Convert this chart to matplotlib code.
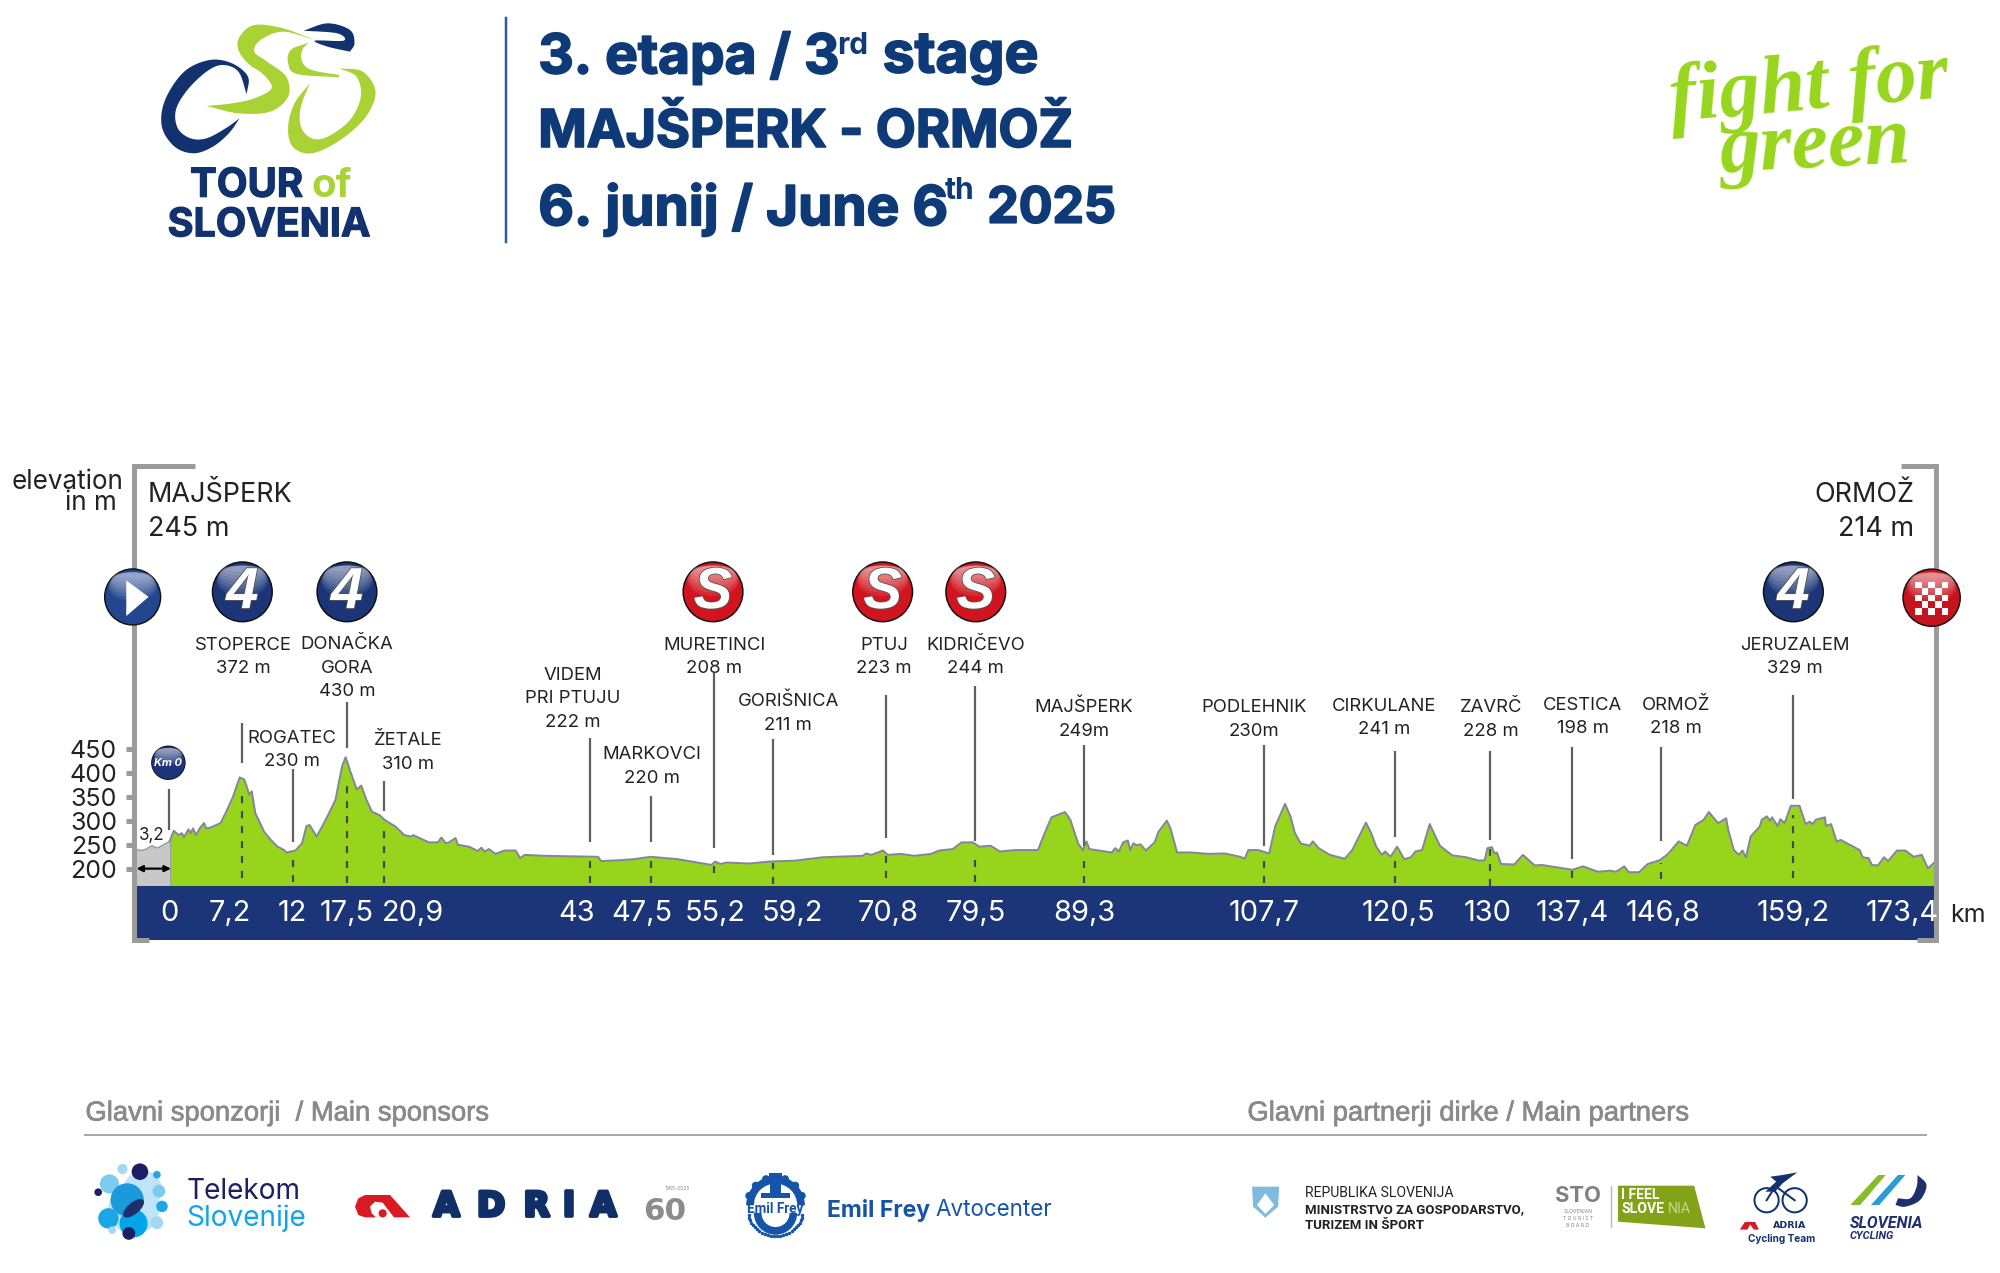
#!/usr/bin/env python3
"""Stage profile poster: 3rd stage of the Tour of Slovenia 2025."""

import matplotlib

matplotlib.use("Agg")
import matplotlib.patheffects as pe  # noqa: E402
import matplotlib.pyplot as plt  # noqa: E402
import numpy as np  # noqa: E402
from matplotlib.patches import Circle, Ellipse, Polygon, Rectangle, Wedge  # noqa: E402

# profile, km from the official start / metres
neutral_km = [-3.5, -2.73, -2.3, -1.73, -1.2, -0.77, 0.0]
neutral_elev = [242, 239, 242, 249, 244, 249, 258]

profile_km = [
    0.0, 0.41, 0.63, 0.89, 1.2, 1.42, 1.85, 2.07, 2.29, 2.6, 2.95, 3.38, 3.6, 4.04, 5.0, 5.57,
    6.23, 6.88, 7.32, 7.62, 7.8, 8.06, 8.41, 9.28, 9.94, 10.6, 11.25, 11.47, 12.34, 13.0, 13.44,
    13.74, 14.44, 15.4, 16.28, 16.93, 17.28, 17.8, 18.37, 18.81, 19.33, 19.86, 20.65, 21.08,
    22.17, 23.05, 23.7, 23.92, 25.45, 26.33, 26.68, 27.11, 27.42, 28.07, 28.29, 29.39, 30.26,
    30.61, 30.92, 31.35, 32.0, 32.88, 33.97, 34.41, 34.85, 36.8, 42.06, 42.36, 44.24, 45.55,
    47.2, 49.9, 53.2, 53.55, 54.08, 54.7, 56.9, 58.84, 61.44, 64.1, 68.05, 68.36, 68.9, 70.04,
    70.48, 71.8, 73.1, 74.75, 75.55, 76.87, 77.75, 78.86, 79.5, 80.6, 81.5, 83.0, 85.25, 85.9,
    86.57, 87.9, 88.42, 89.2, 89.66, 90.0, 90.3, 92.5, 92.83, 93.2, 93.6, 94.07, 94.3, 94.6,
    94.95, 95.3, 95.83, 96.7, 97.07, 97.9, 98.25, 98.9, 100.24, 102.0, 103.55, 105.1, 105.53,
    105.9, 106.85, 107.95, 108.53, 109.5, 110.03, 110.47, 111.04, 111.9, 112.23, 112.8, 113.9,
    115.36, 116.1, 117.44, 117.96, 118.45, 119.0, 119.33, 119.86, 120.5, 121.2, 121.85, 122.3,
    122.95, 123.7, 124.27, 124.7, 125.9, 127.3, 128.55, 129.1, 129.37, 129.8, 130.06, 130.3,
    130.7, 132.0, 132.85, 134.0, 134.7, 137.7, 138.75, 140.2, 141.4, 142.0, 142.8, 143.24,
    144.26, 145.1, 146.3, 147.1, 148.14, 148.95, 149.77, 150.6, 151.1, 152.0, 152.8, 153.0,
    153.56, 154.05, 154.4, 154.75, 155.2, 156.1, 156.3, 156.8, 157.1, 157.3, 157.85, 158.13,
    158.54, 159.15, 160.0, 160.6, 161.0, 161.3, 161.6, 162.5, 162.6, 163.1, 163.64, 164.05,
    165.9, 166.2, 166.8, 167.1, 167.7, 168.3, 168.7, 169.56, 170.4, 171.2, 172.0, 172.6, 173.4,
]
profile_elev = [
    258, 280, 276, 271, 275, 267, 283, 275, 285, 271, 285, 296, 285, 287, 296, 320,
    351, 391, 387, 369, 355, 362, 317, 278, 261, 247, 240, 235, 239, 254, 290,
    292, 268, 306, 344, 414, 433, 400, 366, 374, 344, 320, 312, 303,
    289, 271, 268, 271, 256, 256, 266, 254, 256, 265, 251, 247, 238,
    245, 237, 242, 232, 239, 239, 223, 230, 228, 226, 217, 219, 221,
    226, 221, 209, 216, 211, 214, 212, 216, 218, 225, 228, 233, 230, 239,
    230, 232, 228, 232, 239, 242, 256, 256, 247, 249, 237, 240, 240, 275,
    308, 319, 303, 253, 240, 258, 242, 235, 244, 237, 256, 260, 240, 254,
    250, 252, 239, 256, 278, 301, 285, 235, 235, 232, 233, 226, 222,
    240, 240, 233, 289, 336, 310, 275, 254, 249, 258, 244, 230,
    222, 240, 297, 275, 247, 230, 237, 226, 247, 221, 225, 237,
    240, 294, 268, 249, 229, 225, 218, 219, 244, 246, 233, 235,
    211, 210, 230, 208, 209, 199, 206, 195, 197, 195, 206, 194,
    194, 211, 219, 232, 258, 249, 292, 303, 319, 296, 306, 282,
    240, 230, 239, 225, 268, 289, 303, 310, 301, 308, 290, 304,
    296, 332, 332, 294, 299, 294, 303, 308, 290, 294, 258, 261,
    240, 225, 223, 209, 208, 225, 217, 239, 239, 226, 230, 202, 217,
]

elev_ticks = [200, 250, 300, 350, 400, 450]

# km of the vertical leaders, as they stand in the drawing
marker_km = [7.14, 12.15, 17.4, 21.0, 41.3, 47.3, 53.4, 59.2, 70.3, 79.1, 89.8, 107.4,
             120.3, 129.6, 137.7, 146.4, 159.4]
km_labels = ["0", "7,2", "12", "17,5", "20,9", "43", "47,5", "55,2", "59,2", "70,8", "79,5",
             "89,3", "107,7", "120,5", "130", "137,4", "146,8", "159,2", "173,4"]
place_labels = [
    "STOPERCE\n372 m", "ROGATEC\n230 m", "DONAČKA\nGORA\n430 m", "ŽETALE\n310 m",
    "VIDEM\nPRI PTUJU\n222 m", "MARKOVCI\n220 m", "MURETINCI\n208 m", "GORIŠNICA\n211 m",
    "PTUJ\n223 m", "KIDRIČEVO\n244 m", "MAJŠPERK\n249m", "PODLEHNIK\n230m", "CIRKULANE\n241 m",
    "ZAVRČ\n228 m", "CESTICA\n198 m", "ORMOŽ\n218 m", "JERUZALEM\n329 m",
]

# layout: leader ends in image pixels, labels in units of the 1568 wide page
LEADER_TOP = [723, 769, 702, 781, 738, 796, 673, 739, 695, 686, 745, 745, 751, 751, 747, 747, 695]
LEADER_BOT = [763, 842, 748, 811, 842, 842, 848, 855, 838, 841, 846, 846, 837, 840, 859, 841, 799]
DASH_TOP = [795, 857, 780, 823, 857, 857, 865, 863, 851, 855, 859, 859, 855, 848, 869, 863, 815]
DASH_BOT = [878, 882, 883, 883, 883, 883, 873, 884, 878, 882, 883, 883, 883, 886, 878, 879, 878]
LABEL_POS = [(191, 515), (229, 588), (272, 524), (320, 590), (449, 548), (511, 601), (560, 515),
             (618, 559), (693, 515), (765, 515), (850, 564), (983, 564), (1085, 563), (1169, 564),
             (1241, 562), (1314, 562), (1407, 515)]
KM_LABEL_X = [133, 180, 229, 272, 324, 452, 503, 561, 621, 696, 765, 850, 991, 1096, 1166, 1233,
              1304, 1406, 1491]

W, H = 2000, 1273
PAGE_W, PAGE_H = 1568, 1273 * 0.784
LEFT_PX, RIGHT_PX = 134, 1936
PX_PER_KM = (1936 - 169.6) / 173.4
PX_PER_M = 0.481
BASE_PY = 886
BASE_M = 200 - (BASE_PY - 869.3) / PX_PER_M

NAVY = "#1B3578"
TITLE = "#0F3A78"
LIME = "#97D51D"
LOGO_LIME = "#A9D234"
LOGO_NAVY = "#12326F"
RED = "#D2141E"
GREY = "#9B9B9B"
INK = "#222222"
EMIL = "#1554A8"
FONT = ["Inter", "DejaVu Sans"]

plt.rcParams["font.family"] = FONT


def pt(px):
    return px * 0.72


def py2m(py):
    return BASE_M + (BASE_PY - np.asarray(py, float)) / PX_PER_M


def spline(points, n=10):
    p = np.asarray(points, float)
    p = np.vstack([2 * p[0] - p[1], p, 2 * p[-1] - p[-2]])
    out = []
    for i in range(1, len(p) - 2):
        t = np.linspace(0, 1, n, endpoint=False)[:, None]
        out.append(0.5 * (2 * p[i] + (p[i + 1] - p[i - 1]) * t
                          + (2 * p[i - 1] - 5 * p[i] + 4 * p[i + 1] - p[i + 2]) * t ** 2
                          + (3 * p[i] - p[i - 1] - 3 * p[i + 1] + p[i + 2]) * t ** 3))
    out.append(p[-2:-1])
    return np.vstack(out)


def crescent(ax, outer, inner, color, conv):
    pts = np.vstack([spline([conv(*q) for q in outer]), spline([conv(*q) for q in inner])])
    ax.add_patch(Polygon(pts, closed=True, fc=color, ec="none"))


def z7(x, y):
    return 101.9 + x * 0.5, y * 0.2613


def z6(x, y):
    return (1230 + x / 2.036) * 0.784, (1090 + y / 3) * 0.784


def zc(x, y):
    return (340 + x / 3) * 0.784, (1160 + y / 3) * 0.784


def ball(ax, cx, cy, r, base, light):
    ax.add_patch(Circle((cx, cy), r, fc="#111111", ec="none", zorder=5))
    ax.add_patch(Circle((cx, cy), r * 0.95, fc=base, ec="none", zorder=5))
    # soft glass highlight, strongest along the top edge
    top = cy - r * 0.86
    for h in np.linspace(1.0, 0.2, 8):
        ax.add_patch(Ellipse((cx, top + r * h / 2), 2 * r * (0.62 + 0.22 * h), r * h, fc=light,
                             ec="none", alpha=0.09, zorder=6))


def badge(ax, cx, cy, r, label, base, light):
    ball(ax, cx, cy, r, base, light)
    ax.text(cx, cy + 1, label, color="white", ha="center", va="center", style="italic",
            weight="bold", fontsize=pt(58), family=["Liberation Sans"], zorder=7,
            path_effects=[pe.withStroke(linewidth=1.2, foreground="#555555")])


def draw_header(ax):
    crescent(ax, [(183, 283), (185, 230), (160, 190), (125, 180), (85, 215), (55, 300), (50, 380),
                  (70, 440), (100, 460), (130, 440), (155, 400), (172, 355)],
             [(172, 355), (150, 385), (120, 415), (95, 415), (75, 385), (72, 330), (90, 270),
              (120, 215), (145, 195), (170, 215), (183, 283)], LOGO_NAVY, z7)
    crescent(ax, [(120, 318), (170, 340), (220, 335), (248, 290), (245, 230), (215, 185), (195, 155),
                  (205, 120), (240, 95), (290, 120)],
             [(290, 120), (240, 85), (195, 75), (172, 110), (170, 150), (185, 190), (210, 225),
              (222, 265), (195, 295), (160, 310), (120, 318)], LOGO_LIME, z7)
    crescent(ax, [(280, 128), (252, 150), (248, 190), (262, 222), (328, 232)],
             [(328, 225), (285, 210), (270, 185), (270, 150), (280, 128)], LOGO_LIME, z7)
    crescent(ax, [(328, 205), (365, 215), (385, 275), (370, 350), (330, 420), (285, 460), (255, 440),
                  (248, 380), (258, 310), (282, 250)],
             [(282, 250), (268, 320), (268, 380), (285, 415), (310, 410), (345, 360), (362, 290),
              (355, 230), (328, 205)], LOGO_LIME, z7)
    crescent(ax, [(272, 92), (310, 70), (345, 90), (352, 130), (345, 155)],
             [(345, 155), (310, 140), (290, 122), (335, 122), (325, 100), (272, 92)], LOGO_NAVY, z7)

    logo = [pe.withStroke(linewidth=0.9, foreground=LOGO_NAVY)]
    ax.text(149, 146, "TOUR", color=LOGO_NAVY, weight="bold", ha="left", va="center",
            fontsize=pt(40), path_effects=logo)
    ax.text(244, 146, "of", color=LOGO_LIME, weight="bold", ha="left", va="center", fontsize=pt(40))
    ax.text(211, 177, "SLOVENIA", color=LOGO_NAVY, weight="bold", ha="center", va="center",
            fontsize=pt(39.5), path_effects=logo)

    ax.plot([397, 397], [14, 190], color="#2C5CA6", lw=pt(2.5))
    heavy = [pe.withStroke(linewidth=1.3, foreground=TITLE)]
    big = dict(color=TITLE, weight="bold", va="center", ha="left", path_effects=heavy)
    small = dict(color=TITLE, weight="bold", va="center", ha="left", fontsize=pt(30))
    ax.text(422, 45, "3. etapa / 3", fontsize=pt(55), **big)
    ax.text(656, 36, "rd", **small)
    ax.text(692, 45, "stage", fontsize=pt(57), **big)
    ax.text(422, 104, "MAJŠPERK - ORMOŽ", fontsize=pt(52), **big)
    ax.text(422, 164, "6. junij / June 6", fontsize=pt(55), **big)
    ax.text(741, 150, "th", **small)
    ax.text(774, 164, "2025", fontsize=pt(50), **big)

    script = dict(color=LIME, weight="bold", style="italic", ha="center", va="center",
                  family=["Liberation Serif"])
    ax.text(1418, 70, "fight for", fontsize=pt(82), rotation=5, **script)
    ax.text(1423, 116, "green", fontsize=pt(82), rotation=3, **script)


def draw_frame(ax):
    line = dict(color=GREY, lw=pt(5), solid_capstyle="butt", solid_joinstyle="miter", zorder=4)
    ax.plot([153, 105, 105, 117], [365.5, 365.5, 737, 737], **line)
    ax.plot([1490, 1518, 1518, 1503], [365.5, 365.5, 737, 737], **line)
    ax.add_patch(Rectangle((105, 695), 1413, 42, fc=NAVY, ec="none", zorder=3))

    # the second line ends a little short of the first, hence the no-break space
    ax.text(97, 386, "elevation\nin m\u00a0", color=INK, ha="right", va="center", multialignment="right",
            fontsize=pt(26), linespacing=0.72)
    ax.text(116, 388, "MAJŠPERK", color=INK, ha="left", va="center", fontsize=pt(27))
    ax.text(116, 415, "245 m", color=INK, ha="left", va="center", fontsize=pt(27))
    ax.text(1501, 388, "ORMOŽ", color=INK, ha="right", va="center", fontsize=pt(27))
    ax.text(1501, 415, "214 m", color=INK, ha="right", va="center", fontsize=pt(27))

    for x, lab in zip(KM_LABEL_X, km_labels):
        ax.text(x, 716.5, lab, color="white", ha="center", va="center", fontsize=pt(29), zorder=5)
    ax.text(1543, 718, "km", color=INK, ha="center", va="center", fontsize=pt(25))

    ax.text(119, 655, "3,2", color=INK, ha="center", va="center", fontsize=pt(17))
    ax.annotate("", xy=(107, 681), xytext=(134, 681),
                arrowprops=dict(arrowstyle="<|-|>", color="black", lw=1.6, mutation_scale=9,
                                shrinkA=0, shrinkB=0))

    for (x, y), lab in zip(LABEL_POS, place_labels):
        ax.text(x, y, lab, color=INK, ha="center", va="center", fontsize=pt(18.5), linespacing=1.5)


def draw_icons(ax):
    ball(ax, 104, 468, 22.5, "#23468F", "#FFFFFF")
    ax.add_patch(Polygon([(99, 455), (99, 483), (116.5, 468)], fc="white", ec="none", zorder=7))
    for x in (190, 272, 1406):
        badge(ax, x, 464, 24, "4", NAVY, "#FFFFFF")
    for x in (559, 692, 765):
        badge(ax, x, 464, 24, "S", RED, "#FFFFFF")
    ball(ax, 1514.4, 468.6, 23, "#C5141E", "#FFFFFF")
    for i in range(5):
        for j in range(5):
            if (i + j) % 2 == 0:
                ax.add_patch(Rectangle((1501.6 + i * 5.17, 456 + j * 5.17), 5.17, 5.17, fc="white",
                                       ec="none", zorder=7))
    ball(ax, 132, 598, 13.5, NAVY, "#FFFFFF")
    ax.text(132, 598, "Km 0", color="white", style="italic", weight="bold", ha="center",
            va="center", fontsize=pt(11), zorder=7)


def draw_sponsors(ax):
    head = dict(color="#8A8A8A", family=["Liberation Sans"], va="center", ha="left", fontsize=pt(27.4),
                path_effects=[pe.withStroke(linewidth=0.5, foreground="#8A8A8A")])
    ax.text(67, 873, "Glavni sponzorji  / Main sponsors", **head)
    ax.text(978, 873, "Glavni partnerji dirke / Main partners", **head)
    ax.plot([67, 1510], [890, 890], color="#A8A8A8", lw=pt(2))

    # Telekom
    for x, y, r, c in [(112, 932.8, 15, "#BFE3F7"), (105, 947.7, 20, "#BFE3F7"), (109.7, 918.6, 6.5, "#1E1E64"),
                       (96, 916.5, 4, "#A5D8F3"), (123, 921, 3, "#22A7E5"), (85.8, 928.2, 7.5, "#7CCBF1"),
                       (77, 934.7, 3, "#1E1E64"), (99.7, 940.7, 13, "#1B9ADB"), (124.6, 933.8, 5, "#7CCBF1"),
                       (127, 945.8, 4.5, "#1BA7E6"), (85, 955.2, 8, "#1BA7E6"), (104.7, 959.2, 11, "#00A6E8"),
                       (123, 958.6, 5, "#A5D8F3"), (88, 964.4, 3, "#A5D8F3"), (101, 967, 5, "#1E1E64")]:
        ax.add_patch(Circle((x, y), r, fc=c, ec="none"))
    ax.add_patch(Ellipse((104.7, 947.3), 20, 9, angle=-40, fc="#1E2F6E", ec="none"))
    ax.text(146, 934, "Telekom", color="#1E1E64", va="center", ha="left", fontsize=pt(28))
    ax.text(146, 955, "Slovenije", color="#12A5E6", va="center", ha="left", fontsize=pt(28))

    # Adria
    mark = [zc(*q) for q in [(45, 140), (55, 115), (75, 105), (150, 105), (210, 172), (162, 172), (128, 128),
                             (105, 125), (90, 140), (95, 160), (108, 172), (75, 172), (55, 165)]]
    ax.add_patch(Polygon(mark, fc="#DA1A22", ec="none"))
    ax.add_patch(Circle(zc(128, 160), 3.2, fc="#DA1A22", ec="none"))
    thick = [pe.withStroke(linewidth=2.6, foreground="#0F2F66")]
    for x, letter in zip((350, 385, 420.8, 446, 473), "ADRIA"):
        ax.text(x, 946, letter, color="#0F2F66", weight="bold", ha="center", va="center",
                fontsize=pt(34), family=["DejaVu Sans"], path_effects=thick)
    ax.text(521.4, 950, "60", color="#8C8C8C", weight="bold", ha="center", va="center",
            fontsize=pt(31), family=["DejaVu Sans"])
    ax.text(531, 932, "1965-2025", color="#8C8C8C", ha="center", va="center", fontsize=pt(5))

    # Emil Frey
    ax.add_patch(Wedge((608, 945), 23, 180, 360, width=6, fc=EMIL, ec="none"))
    for a in np.radians([200, 225, 250, 290, 315, 340]):
        ax.add_patch(Circle((608 + 22 * np.cos(a), 945 + 22 * np.sin(a)), 3, fc=EMIL, ec="none"))
    ax.add_patch(Rectangle((604, 921), 8, 18, fc=EMIL, ec="none"))
    ax.add_patch(Rectangle((597, 935), 22, 4, fc=EMIL, ec="none"))
    ax.add_patch(Rectangle((603, 920), 10, 3, fc=EMIL, ec="none"))
    ax.add_patch(Wedge((608, 951), 17, 0, 180, width=6, fc=EMIL, ec="none"))
    th = np.radians(np.linspace(5, 175, 26))
    ax.plot(608 + 21 * np.cos(th), 951 + 18 * np.sin(th), ls="none", marker="o", ms=1.5, color=EMIL)
    ax.text(608, 948, "Emil Frey", color=EMIL, weight="bold", ha="center", va="center", fontsize=pt(13.5),
            family=["Roboto"])
    ax.text(648, 949, "Emil Frey", color=EMIL, weight="bold", ha="left", va="center", fontsize=pt(23))
    ax.text(733, 949, "Avtocenter", color=EMIL, ha="left", va="center", fontsize=pt(22.4))

    # Republika Slovenija
    ax.add_patch(Polygon([z6(45, 290), z6(100, 290), z6(98, 350), z6(72, 383), z6(47, 350)],
                         fc="#7FBBDD", ec="none"))
    ax.add_patch(Polygon([z6(55, 345), z6(72, 310), z6(90, 345), z6(72, 372)], fc="white", ec="none"))
    ax.text(1023, 935, "REPUBLIKA SLOVENIJA", color=INK, ha="left", va="center",
            fontsize=pt(14), family=["Roboto"])
    ax.text(1023, 948, "MINISTRSTVO ZA GOSPODARSTVO,", color=INK, ha="left", va="center",
            weight="bold", fontsize=pt(13.3), family=["Roboto"])
    ax.text(1023, 961, "TURIZEM IN ŠPORT", color=INK, ha="left", va="center",
            weight="bold", fontsize=pt(13.3), family=["Roboto"])

    # STO
    ax.text(1219, 938, "STO", color="#808080", weight="bold", ha="left", va="center", fontsize=pt(22))
    for y, lab in zip((950, 955, 961), ("SLOVENIAN", "T O U R I S T", "B O A R D")):
        ax.text(1237, y, lab, color="#808080", ha="center", va="center", fontsize=pt(5))
    ax.plot([1263, 1263], [930, 962], color="#BBBBBB", lw=1)
    ax.add_patch(Polygon([z6(790, 287), z6(945, 287), z6(968, 415), z6(790, 395)], fc="#84A218",
                         ec="none"))
    ax.text(1271, 937, "I FEEL", color="white", weight="bold", ha="left", va="center",
            fontsize=pt(14), family=["Roboto"])
    ax.text(1271, 948, "SLOVE", color="white", weight="bold", ha="left", va="center",
            fontsize=pt(14), family=["Roboto"])
    ax.text(1308, 948, "NIA", color="#C9D98A", ha="left", va="center", fontsize=pt(14), family=["Roboto"])

    # Adria cycling team
    for x in (1385, 1407):
        ax.add_patch(Circle((x, 941), 9.5, fc="none", ec="#12326F", lw=pt(2)))
    ax.add_patch(Polygon([z6(1155, 247), z6(1125, 255), z6(1100, 260), z6(1112, 275), z6(1090, 305),
                          z6(1110, 305), z6(1125, 280)], fc="#12326F", ec="none"))
    ax.plot([1385, 1392, 1407], [941, 930, 941], color="#12326F", lw=pt(2))
    ax.add_patch(Polygon([(1364, 964), (1368, 958), (1376, 958), (1379, 964), (1375, 964), (1372, 960),
                          (1370, 964)], fc="#DA1A22", ec="none"))
    ax.text(1403, 961, "ADRIA", color="#12326F", weight="bold", ha="center", va="center",
            fontsize=pt(9.5), family=["DejaVu Sans"])
    ax.text(1397, 971, "Cycling Team", color="#12326F", weight="bold", ha="center", va="center",
            fontsize=pt(10))

    # Slovenia cycling
    ax.add_patch(Polygon([z6(1263, 345), z6(1320, 255), z6(1335, 255), z6(1283, 345)], fc="#86BC25",
                         ec="none"))
    ax.add_patch(Polygon([z6(1305, 345), z6(1360, 255), z6(1375, 255), z6(1322, 345)], fc="#2B9AD6",
                         ec="none"))
    arc = [z6(1400, 255), z6(1418, 285), z6(1405, 330), z6(1375, 350), z6(1355, 345)]
    inner = [z6(1360, 325), z6(1385, 325), z6(1398, 290), z6(1400, 255)]
    ax.add_patch(Polygon(np.vstack([spline(arc), spline(inner)]), fc="#1E2F6E", ec="none"))
    ax.text(1450, 959, "SLOVENIA", color="#1E2F6E", weight="bold", style="italic", ha="left",
            va="center", fontsize=pt(16), family=["Roboto"])
    ax.text(1450, 969, "CYCLING", color="#1E2F6E", weight="bold", style="italic", ha="left",
            va="center", fontsize=pt(11), family=["Roboto"])


def main():
    fig = plt.figure(figsize=(W / 100, H / 100), dpi=100, facecolor="white")

    # profile axes, placed so that 1 km and 1 m keep the scale of the drawing
    ax = fig.add_axes([LEFT_PX / W, 1 - BASE_PY / H, (RIGHT_PX - LEFT_PX) / W, (BASE_PY - 466) / H], zorder=1)
    ax.set_xlim(-(169.6 - LEFT_PX) / PX_PER_KM, 173.4)
    ax.set_ylim(BASE_M, py2m(466))
    ax.patch.set_visible(False)
    ax.spines[:].set_visible(False)
    ax.set_xticks([])
    ax.set_yticks(elev_ticks)
    ax.tick_params(axis="y", length=pt(8), width=pt(5), color=GREY, labelsize=pt(25), pad=pt(9),
                   labelcolor=INK)

    ax.fill_between(neutral_km, neutral_elev, BASE_M, color="#C8C8C8", lw=0)
    ax.plot(neutral_km, neutral_elev, color="#9A9AA5", lw=pt(1.5))
    ax.fill_between(profile_km, profile_elev, BASE_M, color=LIME, lw=0)
    ax.plot(profile_km, profile_elev, color="#85859A", lw=pt(2))
    ax.plot([0, 0], [BASE_M, neutral_elev[-1]], color="#9A9AA5", lw=pt(1))
    ax.plot([-3.5, 173.4], [BASE_M, BASE_M], color=LIME, lw=1)

    ax.vlines(marker_km, py2m(LEADER_BOT), py2m(LEADER_TOP), color="#5F5F5F", lw=pt(2.2))
    ax.vlines(marker_km, py2m(DASH_BOT), py2m(DASH_TOP), color="#444455", lw=pt(2.2),
              linestyles=(0, (3.2, 3.6)))
    ax.vlines([-0.1], py2m(830), py2m(789), color="#5F5F5F", lw=pt(2.2))

    # everything else sits on a page axes in preview units
    page = fig.add_axes([0, 0, 1, 1], zorder=2)
    page.set_xlim(0, PAGE_W)
    page.set_ylim(PAGE_H, 0)
    page.axis("off")
    page.patch.set_visible(False)

    draw_header(page)
    draw_frame(page)
    draw_icons(page)
    draw_sponsors(page)

    fig.savefig("out.png", dpi=100, facecolor="white")


if __name__ == "__main__":
    main()
